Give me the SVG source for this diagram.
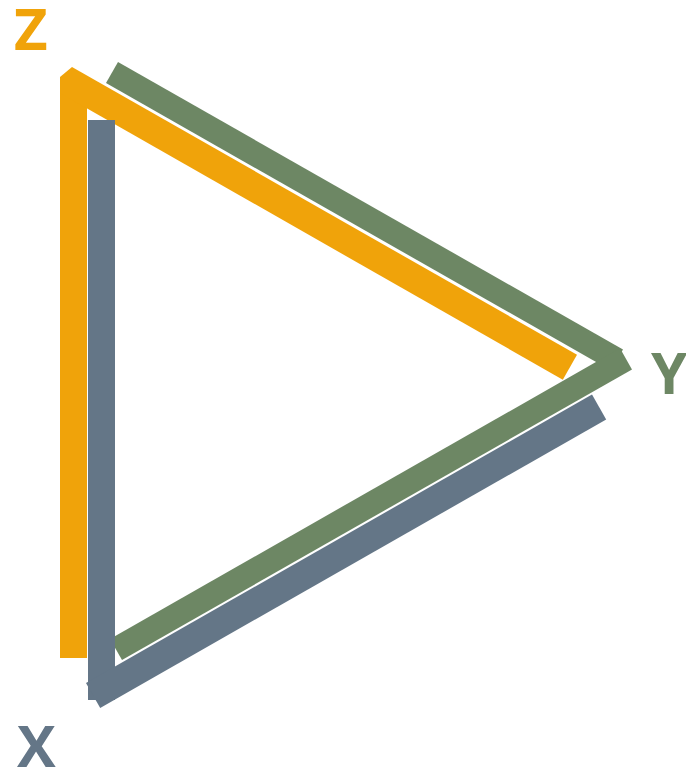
<svg xmlns="http://www.w3.org/2000/svg" width="686" height="777" viewBox="0 0 686 777">
  <style>
    .orange { fill: #f0a30a; }
    .green { fill: #6d8764; }
    .slate { fill: #647687; }
    .lbl { font-family: "Open Sans", "Liberation Sans", sans-serif; font-weight: bold; font-size: 58px; }
  </style>
  <rect width="686" height="777" fill="#ffffff"/>
  <g id="side-y">
    <polygon class="green" points="118,62 623,349.5 611,370.5 106,83"/>
    <polygon class="green" points="110,639 620,348.3 632,369.4 122,660.1"/>
  </g>
  <g id="side-z">
    <rect class="orange" x="60" y="77" width="27" height="581"/>
    <polygon class="orange" points="60,77 72,67 577,354.8 562.8,379.7 60,93"/>
  </g>
  <g id="side-x">
    <rect class="slate" x="88" y="120" width="27" height="580"/>
    <polygon class="slate" points="86,683 592,394.6 606.2,419.4 100.2,707.9"/>
  </g>
  <g id="label-z"><text class="lbl" x="14" y="50" fill="#f0a30a">Z</text></g>
  <g id="label-y"><text class="lbl" x="651" y="394" fill="#6d8764">Y</text></g>
  <g id="label-x"><text class="lbl" x="17" y="767" fill="#647687">X</text></g>
</svg>
